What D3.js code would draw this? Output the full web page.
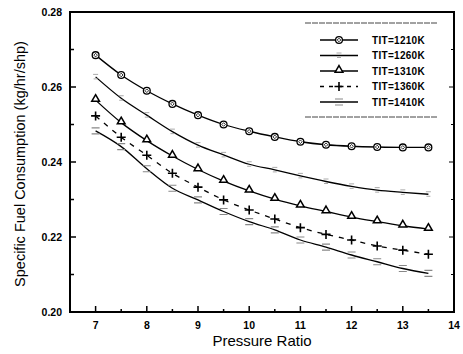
<!DOCTYPE html>
<html lang="en">
<head>
<meta charset="utf-8">
<title>SFC vs Pressure Ratio</title>
<script type="text/javascript" src="https://cdn.jsdelivr.net/npm/d3@7"></script>
<style type="text/css">
	body { margin: 0; background: #fff; }
	text { font-family: "Liberation Sans", Arial, sans-serif; }
</style>
</head>
<body>
<script type="text/javascript">

// pressure ratio points
var pressureRatio = [7, 7.5, 8, 8.5, 9, 9.5, 10, 10.5, 11, 11.5, 12, 12.5, 13, 13.5];

var sfc1210 = [0.2685, 0.2632, 0.2590, 0.2555, 0.2525, 0.2500, 0.2482, 0.2467, 0.2454, 0.2446, 0.2442, 0.2440, 0.2439, 0.2439];
var sfc1260 = [0.2627, 0.2570, 0.2525, 0.2481, 0.2445, 0.2419, 0.2394, 0.2379, 0.2363, 0.2348, 0.2335, 0.2325, 0.2319, 0.2314];
var sfc1310 = [0.2565, 0.2505, 0.2457, 0.2416, 0.2380, 0.2349, 0.2323, 0.2301, 0.2283, 0.2268, 0.2253, 0.2241, 0.2230, 0.2221];
var sfc1360 = [0.2523, 0.2466, 0.2418, 0.2370, 0.2333, 0.2299, 0.2272, 0.2248, 0.2225, 0.2207, 0.2192, 0.2176, 0.2165, 0.2154];
var sfc1410 = [0.2483, 0.2441, 0.2382, 0.2330, 0.2299, 0.2268, 0.2241, 0.2219, 0.2192, 0.2173, 0.2152, 0.2134, 0.2116, 0.2103];

var seriesNames = ["TIT=1210K", "TIT=1260K", "TIT=1310K", "TIT=1360K", "TIT=1410K"];
var xTicks = [7, 8, 9, 10, 11, 12, 13, 14];
var yTicks = [0.20, 0.22, 0.24, 0.26, 0.28];

var series = [
	{name: seriesNames[0], values: sfc1210, marker: "circle", dash: null},
	{name: seriesNames[1], values: sfc1260, marker: "faint", dash: null},
	{name: seriesNames[2], values: sfc1310, marker: "triangle", dash: null},
	{name: seriesNames[3], values: sfc1360, marker: "plus", dash: "5,6"},
	{name: seriesNames[4], values: sfc1410, marker: "equal", dash: null}
];

var W = 463, H = 354;
var pLeft = 70, pRight = 454, pTop = 12, pBottom = 312;

var svg = d3.select("body").append("svg")
	.attr("width", W).attr("height", H);

var x = d3.scaleLinear().domain([6.5, 14]).range([pLeft, pRight]);
var y = d3.scaleLinear().domain([0.20, 0.28]).range([pBottom, pTop]);

// frame
svg.append("rect")
	.attr("x", pLeft).attr("y", pTop)
	.attr("width", pRight - pLeft).attr("height", pBottom - pTop)
	.attr("fill", "none").attr("stroke", "#000").attr("stroke-width", 2);

// bottom axis, ticks pointing inward
var xMinor = d3.range(7.5, 14, 1);
svg.append("g").selectAll("line").data(xTicks.concat(xMinor)).enter().append("line")
	.attr("x1", function(d) { return x(d); })
	.attr("x2", function(d) { return x(d); })
	.attr("y1", pBottom)
	.attr("y2", function(d) { return pBottom - (d % 1 === 0 ? 6 : 3); })
	.attr("stroke", "#000").attr("stroke-width", 1.5);

svg.append("g").selectAll("text").data(xTicks).enter().append("text")
	.attr("x", function(d) { return x(d); })
	.attr("y", 329)
	.attr("text-anchor", "middle")
	.attr("font-size", "10.5px").attr("font-weight", "bold")
	.text(function(d) { return d; });

// left + right axis ticks
var yMinor = [0.21, 0.23, 0.25, 0.27];
svg.append("g").selectAll("line").data(yTicks.concat(yMinor)).enter().append("line")
	.attr("x1", pLeft)
	.attr("x2", function(d) { return pLeft + (yTicks.indexOf(d) >= 0 ? 6 : 4); })
	.attr("y1", function(d) { return y(d); })
	.attr("y2", function(d) { return y(d); })
	.attr("stroke", "#000").attr("stroke-width", 1.5);

svg.append("g").selectAll("line").data(yTicks.concat(yMinor)).enter().append("line")
	.attr("x1", pRight)
	.attr("x2", function(d) { return pRight - (yTicks.indexOf(d) >= 0 ? 5 : 3); })
	.attr("y1", function(d) { return y(d); })
	.attr("y2", function(d) { return y(d); })
	.attr("stroke", "#000").attr("stroke-width", 1);

svg.append("g").selectAll("text").data(yTicks).enter().append("text")
	.attr("x", 62)
	.attr("y", function(d) { return y(d) + 4; })
	.attr("text-anchor", "end")
	.attr("font-size", "10.5px").attr("font-weight", "bold")
	.text(function(d) { return d.toFixed(2); });

// titles
svg.append("text")
	.attr("x", 262).attr("y", 346)
	.attr("text-anchor", "middle")
	.attr("font-size", "15px")
	.text("Pressure Ratio");

svg.append("text")
	.attr("transform", "translate(25,164) rotate(-90)")
	.attr("text-anchor", "middle")
	.attr("font-size", "14.5px")
	.text("Specific Fuel Consumption (kg/hr/shp)");

// lines
var line = d3.line()
	.x(function(d, i) { return x(pressureRatio[i]); })
	.y(function(d) { return y(d); })
	.curve(d3.curveMonotoneX);

function drawMarker(g, type, cx, cy) {
	if (type === "circle") {
		g.append("circle").attr("cx", cx).attr("cy", cy).attr("r", 3.4)
			.attr("fill", "#fff").attr("stroke", "#000").attr("stroke-width", 1.3);
		g.append("path")
			.attr("d", "M" + cx + "," + (cy - 1.8) + "L" + (cx + 1.8) + "," + cy + "L" + cx + "," + (cy + 1.8) + "L" + (cx - 1.8) + "," + cy + "Z")
			.attr("fill", "none").attr("stroke", "#000").attr("stroke-width", 0.8);
	} else if (type === "faint") {
		g.append("path")
			.attr("d", "M" + (cx - 2.5) + "," + (cy - 2.5) + "L" + (cx + 2.5) + "," + (cy - 2.5) + "M" + (cx - 2) + "," + (cy + 2) + "L" + (cx + 2) + "," + (cy + 2))
			.attr("stroke", "#aaa").attr("stroke-width", 1);
	} else if (type === "triangle") {
		g.append("path")
			.attr("d", d3.symbol().type(d3.symbolTriangle).size(26)())
			.attr("transform", "translate(" + cx + "," + (cy - 1) + ")")
			.attr("fill", "#fff").attr("stroke", "#000").attr("stroke-width", 1.5);
	} else if (type === "plus") {
		g.append("path")
			.attr("d", "M" + (cx - 4.5) + "," + cy + "L" + (cx + 4.5) + "," + cy + "M" + cx + "," + (cy - 4.5) + "L" + cx + "," + (cy + 4.5))
			.attr("stroke", "#000").attr("stroke-width", 1.6);
	} else if (type === "equal") {
		g.append("path")
			.attr("d", "M" + (cx - 4) + "," + (cy - 3) + "L" + (cx + 4) + "," + (cy - 3) + "M" + (cx - 4) + "," + (cy + 3) + "L" + (cx + 4) + "," + (cy + 3))
			.attr("stroke", "#888").attr("stroke-width", 1.1);
	}
}

series.forEach(function(s) {
	var g = svg.append("g");
	g.append("path")
		.datum(s.values)
		.attr("d", line)
		.attr("fill", "none")
		.attr("stroke", "#000")
		.attr("stroke-width", 1.3)
		.attr("stroke-dasharray", s.dash);
	s.values.forEach(function(v, i) {
		drawMarker(g, s.marker, x(pressureRatio[i]), y(v));
	});
});

// legend
var leg = svg.append("g");
leg.append("line").attr("x1", 305).attr("x2", 438).attr("y1", 23).attr("y2", 23)
	.attr("stroke", "#444").attr("stroke-width", 1).attr("stroke-dasharray", "6,1");
leg.append("line").attr("x1", 305).attr("x2", 438).attr("y1", 117).attr("y2", 117)
	.attr("stroke", "#444").attr("stroke-width", 1).attr("stroke-dasharray", "6,1");

var legY = d3.scalePoint().domain(seriesNames).range([40, 102]);
series.forEach(function(s) {
	var yy = legY(s.name);
	leg.append("line").attr("x1", 320).attr("x2", 358).attr("y1", yy).attr("y2", yy)
		.attr("stroke", "#000").attr("stroke-width", 1.4)
		.attr("stroke-dasharray", s.dash ? "4,5" : null);
	drawMarker(leg, s.marker, 339, yy);
	leg.append("text")
		.attr("x", 372).attr("y", yy + 3.5)
		.attr("font-size", "10px").attr("font-weight", "bold")
		.attr("letter-spacing", "0.3px")
		.text(s.name);
});

</script>
</body>
</html>
